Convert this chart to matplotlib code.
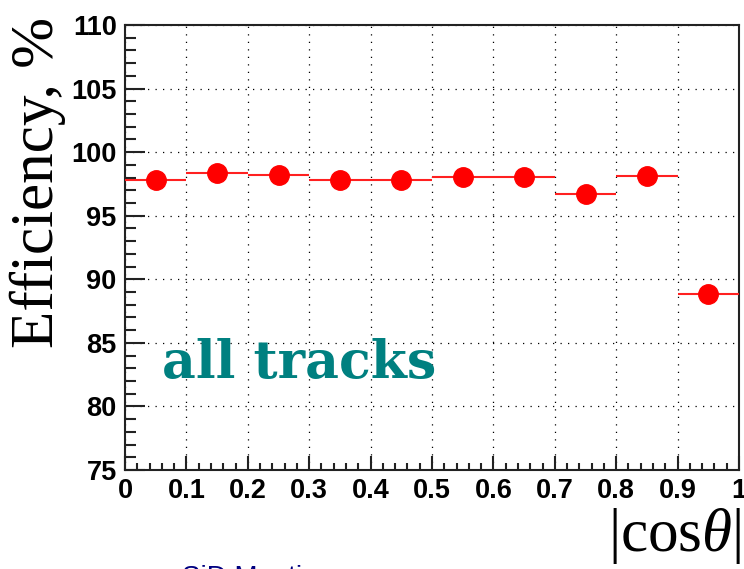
import matplotlib
matplotlib.use("Agg")
import matplotlib.pyplot as plt
from matplotlib.ticker import MultipleLocator, FixedFormatter, FixedLocator

# ---- data ----
bin_centers = [0.05, 0.15, 0.25, 0.35, 0.45, 0.55, 0.65, 0.75, 0.85, 0.95]
bin_half_width = [0.05] * 10
efficiency = [97.8, 98.35, 98.2, 97.8, 97.8, 98.05, 98.05, 96.7, 98.1, 88.85]
xtick_vals = [0, 0.1, 0.2, 0.3, 0.4, 0.5, 0.6, 0.7, 0.8, 0.9, 1.0]
xtick_labels = ["0", "0.1", "0.2", "0.3", "0.4", "0.5", "0.6", "0.7", "0.8", "0.9", "1"]
ytick_vals = [75, 80, 85, 90, 95, 100, 105, 110]
ytick_labels = ["75", "80", "85", "90", "95", "100", "105", "110"]

plt.rcParams['mathtext.fontset'] = 'custom'
plt.rcParams['mathtext.rm'] = 'Liberation Serif'
plt.rcParams['mathtext.it'] = 'Liberation Serif:italic'

W, H = 744, 569
fig = plt.figure(figsize=(W / 100, H / 100), dpi=100)
L, R, T, B = 125, 739, 25, 470
ax = fig.add_axes([L / W, 1 - B / H, (R - L) / W, (B - T) / H])

ax.errorbar(bin_centers, efficiency, xerr=bin_half_width, fmt='o', color='#ff0000',
            ecolor='#ff2020', elinewidth=1.5, markersize=14, capsize=0, zorder=3)

ax.set_xlim(0, 1)
ax.set_ylim(75, 110)
ax.xaxis.set_major_locator(FixedLocator(xtick_vals))
ax.xaxis.set_major_formatter(FixedFormatter(xtick_labels))
ax.xaxis.set_minor_locator(MultipleLocator(0.02))
ax.yaxis.set_major_locator(FixedLocator(ytick_vals))
ax.yaxis.set_major_formatter(FixedFormatter(ytick_labels))
ax.yaxis.set_minor_locator(MultipleLocator(1))

ax.grid(True, which='major', color='black', linestyle=(0, (1, 5)), linewidth=0.9)
ax.set_axisbelow(True)

for s in ax.spines.values():
    s.set_linewidth(1.5)
    s.set_color('#222222')

ax.tick_params(axis='both', which='both', direction='in', top=False, right=False, width=1.5, color='#222222')
ax.tick_params(axis='y', which='major', length=14.5, pad=6)
ax.tick_params(axis='y', which='minor', length=8)
ax.tick_params(axis='x', which='major', length=10, pad=6)
ax.tick_params(axis='x', which='minor', length=5)

for lab in ax.get_xticklabels() + ax.get_yticklabels():
    lab.set_fontfamily('Liberation Sans')
    lab.set_fontweight('bold')
    lab.set_fontsize(19.5)

# y label
fig.text(38 / W, 1 - 17 / H, "Efficiency, %", rotation=90, ha='center', va='top',
         fontsize=44, family='Liberation Serif')
# x label
fig.text(741 / W, 1 - 551 / H, r"$|\mathrm{cos}\theta|$", ha='right', va='baseline',
         fontsize=44)
# annotation
ax.text(0.06, 83.4, "all tracks", fontsize=37.5, fontweight='bold', family='DejaVu Serif',
        color='#008080', ha='left', va='center')
# bottom (clipped) text
fig.text(182 / W, 1 - 565 / H, "SiD Meeting", color='#000080', fontsize=20,
         family='Liberation Sans', ha='left', va='top')

fig.savefig("out.png", dpi=100)
